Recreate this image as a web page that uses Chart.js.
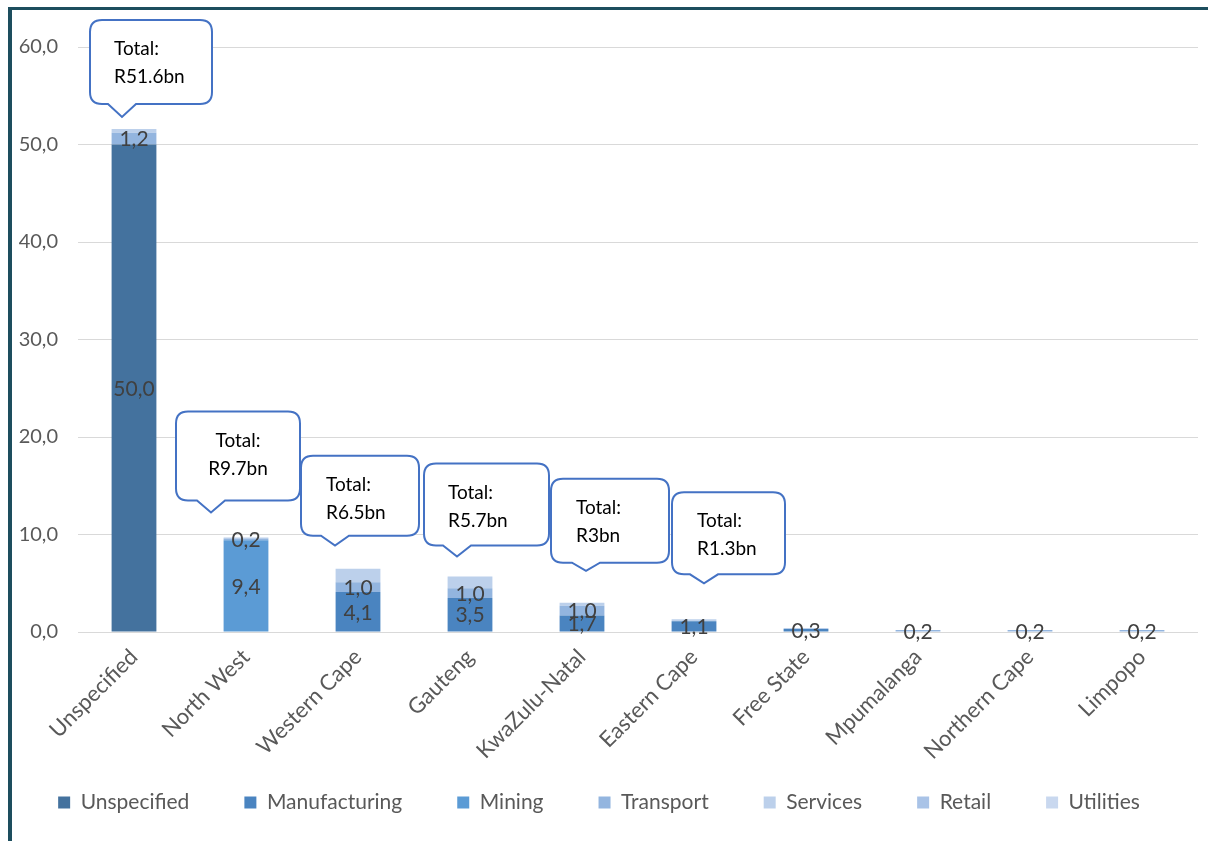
<!DOCTYPE html>
<html>
<head>
<meta charset="utf-8">
<script src="https://cdn.jsdelivr.net/npm/chart.js@4.4.1/dist/chart.umd.min.js"></script>
<style>
  body { margin: 0; background: #fff; }
  #wrap { position: relative; width: 1208px; height: 841px; overflow: hidden; }
  #wrap canvas { position: absolute; left: 0; top: 0; }
  .frame { position: absolute; background: #1d4e5e; }
</style>
</head>
<body>
<div id="wrap">
  <canvas id="bar-chart" width="1208" height="841"></canvas>
  <div class="frame" style="left:8px;top:7px;width:1200px;height:3px"></div>
  <div class="frame" style="left:8px;top:7px;width:4px;height:834px"></div>
</div>
<script>
// values in R billion, by province
const categories = ["Unspecified", "North West", "Western Cape", "Gauteng", "KwaZulu-Natal",
  "Eastern Cape", "Free State", "Mpumalanga", "Northern Cape", "Limpopo"];

const unspecified   = [50.0, 0, 0, 0, 0, 0, 0, 0, 0, 0];
const manufacturing = [0, 0, 4.1, 3.5, 1.7, 1.1, 0.3, 0, 0, 0];
const mining        = [0, 9.4, 0, 0, 0, 0, 0, 0, 0, 0];
const transport     = [1.2, 0.2, 1.0, 1.0, 1.0, 0, 0, 0.2, 0.2, 0.2];
const services      = [0.4, 0.1, 1.4, 1.2, 0.3, 0.2, 0.1, 0, 0, 0];
const retail        = [0, 0, 0, 0, 0, 0, 0, 0, 0, 0];
const utilities     = [0, 0, 0, 0, 0, 0, 0, 0, 0, 0];

const yTicks = [0, 10, 20, 30, 40, 50, 60];

// "Total" callouts for the first six provinces
const calloutTotals = [51.6, 9.7, 6.5, 5.7, 3, 1.3];

// callout box placement, pixels relative to the bar centre / bar top
const calloutLayout = [
  { left: -44, width: 122, height: 84, tipDx: -12, lift: 12, tip: 13, align: "left",   textDx: 24 },
  { left: -70, width: 124, height: 89, tipDx: -35, lift: 25, tip: 12, align: "center", textDx: 0 },
  { left: -57, width: 118, height: 80, tipDx: -23, lift: 23, tip: 10, align: "left",   textDx: 25 },
  { left: -46, width: 125, height: 82, tipDx: -13, lift: 20, tip: 11, align: "left",   textDx: 24 },
  { left: -31, width: 118, height: 84, tipDx: 4,   lift: 32, tip: 8,  align: "left",   textDx: 25 },
  { left: -22, width: 113, height: 82, tipDx: 10,  lift: 36, tip: 9,  align: "left",   textDx: 25 },
];

const FONT = "Lato";
const LEGEND_FONT = 21;
const LEGEND_PAD = 55;

const fmt = (v) => v.toFixed(1).replace(".", ",");

// value labels in the middle of each segment (first four series only)
const segmentLabels = {
  id: "segmentLabels",
  afterDatasetsDraw(chart) {
    const ctx = chart.ctx;
    ctx.save();
    ctx.font = "21px " + FONT;
    ctx.fillStyle = "#404040";
    ctx.textAlign = "center";
    ctx.textBaseline = "middle";
    [0, 1, 2, 3].forEach((di) => {
      const meta = chart.getDatasetMeta(di);
      meta.data.forEach((bar, i) => {
        const v = chart.data.datasets[di].data[i];
        if (!v) return;
        ctx.fillText(fmt(v), bar.x, (bar.y + bar.base) / 2 + 1);
      });
    });
    ctx.restore();
  },
};

// speech-bubble callouts with the total per province
const totalCallouts = {
  id: "totalCallouts",
  afterDraw(chart) {
    const ctx = chart.ctx;
    const xs = chart.scales.x, ys = chart.scales.y;
    ctx.save();
    calloutTotals.forEach((total, i) => {
      const L = calloutLayout[i];
      const cx = xs.getPixelForValue(i);
      const tipX = cx + L.tipDx;
      const tipY = ys.getPixelForValue(total) - L.lift;
      const bx = cx + L.left, bw = L.width, bh = L.height;
      const bb = tipY - L.tip, bt = bb - bh;
      const r = 12;
      const w0 = Math.max(bx + r + 2, tipX - 14), w1 = Math.min(bx + bw - r - 2, tipX + 14);
      ctx.beginPath();
      ctx.moveTo(bx + r, bt);
      ctx.lineTo(bx + bw - r, bt);
      ctx.quadraticCurveTo(bx + bw, bt, bx + bw, bt + r);
      ctx.lineTo(bx + bw, bb - r);
      ctx.quadraticCurveTo(bx + bw, bb, bx + bw - r, bb);
      ctx.lineTo(w1, bb);
      ctx.lineTo(tipX, tipY);
      ctx.lineTo(w0, bb);
      ctx.lineTo(bx + r, bb);
      ctx.quadraticCurveTo(bx, bb, bx, bb - r);
      ctx.lineTo(bx, bt + r);
      ctx.quadraticCurveTo(bx, bt, bx + r, bt);
      ctx.closePath();
      ctx.fillStyle = "#ffffff";
      ctx.fill();
      ctx.lineWidth = 2;
      ctx.strokeStyle = "#4472c4";
      ctx.stroke();

      ctx.fillStyle = "#000000";
      ctx.font = "19px " + FONT;
      ctx.textBaseline = "middle";
      ctx.textAlign = L.align;
      const tx = L.align === "center" ? bx + bw / 2 : bx + L.textDx;
      ctx.fillText("Total:", tx, bt + 29);
      ctx.fillText("R" + total + "bn", tx, bt + 57);
    });
    ctx.restore();
  },
};

const seriesNames = ["Unspecified", "Manufacturing", "Mining", "Transport", "Services", "Retail", "Utilities"];
const seriesData = [unspecified, manufacturing, mining, transport, services, retail, utilities];
const seriesColors = ["#44729e", "#4a84c0", "#5b9bd5", "#93b5df", "#bcd0eb", "#a9c3e7", "#c9d8ef"];

const config = {
  type: "bar",
  data: {
    labels: categories,
    datasets: seriesNames.map((name, k) => ({
      label: name,
      data: seriesData[k],
      backgroundColor: seriesColors[k],
      borderWidth: 0,
      barPercentage: 0.4,
      categoryPercentage: 1,
    })),
  },
  options: {
    responsive: false,
    animation: false,
    layout: { padding: { top: 47, right: 10, bottom: 18, left: 0 } },
    plugins: {
      title: { display: false },
      tooltip: { enabled: false },
      legend: {
        display: true,
        position: "bottom",
        labels: {
          color: "#595959",
          boxWidth: 12,
          boxHeight: 12,
          padding: LEGEND_PAD,
          font: { family: FONT, size: LEGEND_FONT },
        },
      },
    },
    scales: {
      x: {
        stacked: true,
        grid: { display: false },
        border: { display: false },
        ticks: {
          color: "#595959",
          font: { family: FONT, size: 22 },
          minRotation: 45,
          maxRotation: 45,
          padding: 4,
        },
        afterFit(scale) {
          scale.height = (841 - 18 - 10 - LEGEND_FONT - LEGEND_PAD) - 632;
          // long rotated names run below the axis box, don't clip them
          scale._computeLabelArea = () => undefined;
        },
      },
      y: {
        stacked: true,
        min: yTicks[0],
        max: yTicks[yTicks.length - 1],
        border: { display: false },
        grid: { color: "#d9d9d9", lineWidth: 1, drawTicks: false },
        ticks: {
          stepSize: yTicks[1] - yTicks[0],
          color: "#595959",
          font: { family: FONT, size: 20 },
          padding: 20,
          callback: (v) => fmt(v),
        },
        afterFit(scale) {
          scale.width = 78;
        },
      },
    },
  },
  plugins: [segmentLabels, totalCallouts],
};

const ctx = document.getElementById("bar-chart").getContext("2d");
new Chart(ctx, config);
</script>
</body>
</html>
